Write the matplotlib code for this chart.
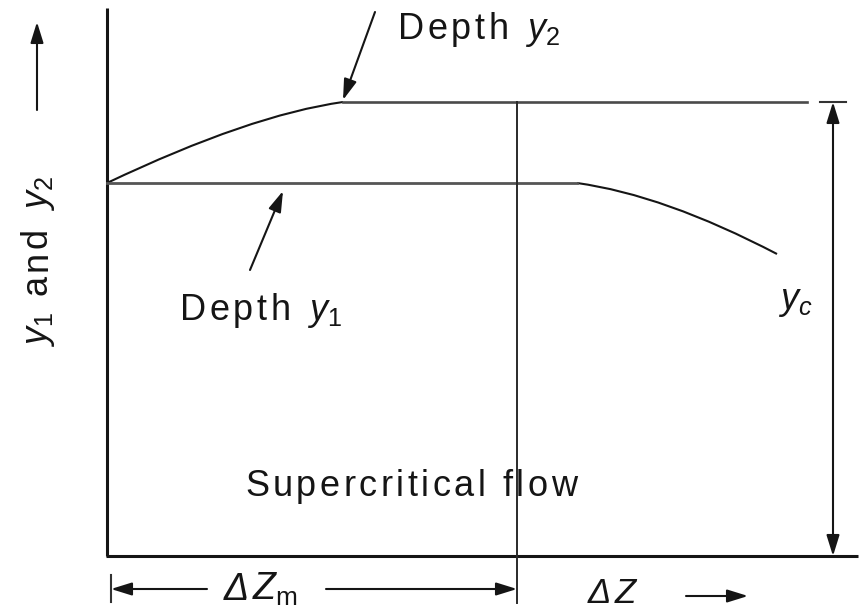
import matplotlib
matplotlib.use("Agg")
import matplotlib.pyplot as plt
from matplotlib.path import Path
from matplotlib.patches import PathPatch
from matplotlib.font_manager import FontProperties

FONT = "Liberation Sans"
INK = "#151515"
plt.rcParams.update({
    "font.family": FONT,
    "mathtext.fontset": "custom",
    "mathtext.rm": FONT,
    "mathtext.it": FONT + ":italic",
    "mathtext.bf": FONT + ":bold",
})

# schematic geometry, in picture pixels (y grows downward)
x_origin, y_base = 107, 556
axis_top, axis_right = 8, 858
y2_level, y1_level = 102, 183
y2_rise = [(107, 183), (250, 115), (343, 102)]    # quadratic bezier
y2_flat = [343, 807]
y1_flat = [107, 577]
y1_fall = [(577, 183), (664, 195), (777, 254)]    # quadratic bezier
zm_x, zm_bottom = 517, 603
yc_x, yc_tick = 833, [820, 846]
dzm_y, dzm_tick_x, dzm_tick = 589, 111, [575, 602]
dzm_left, dzm_right = 207, 326
dz_y, dz_arrow = 596, [686, 748]

fig = plt.figure(figsize=(8.64, 6.13), dpi=100)
ax = fig.add_axes([0, 0, 1, 1])
ax.set_xlim(0, 864)
ax.set_ylim(613, 0)
ax.axis("off")

# axes of the sketch
ax.plot([x_origin, x_origin], [axis_top, y_base], color=INK, lw=2.2, solid_capstyle="butt")
ax.plot([x_origin - 1, axis_right], [y_base, y_base], color=INK, lw=2.2, solid_capstyle="butt")

# depth y2: rising curve then level
ax.add_patch(PathPatch(Path(y2_rise, [Path.MOVETO, Path.CURVE3, Path.CURVE3]),
                       fill=False, color=INK, lw=1.5))
ax.plot(y2_flat, [y2_level, y2_level], color="#4a4a4a", lw=1.9)

# depth y1: level then falling curve
ax.plot(y1_flat, [y1_level, y1_level], color="#555555", lw=2.0)
ax.add_patch(PathPatch(Path(y1_fall, [Path.MOVETO, Path.CURVE3, Path.CURVE3]),
                       fill=False, color=INK, lw=1.5))

# vertical at delta Z_m
ax.plot([zm_x, zm_x], [y2_level, zm_bottom], color="#2a2a2a", lw=1.4)

ARW = dict(color=INK, lw=1.5, shrinkA=0, shrinkB=0, mutation_scale=14)


def arrow(tail, tip, style="-|>,head_length=0.9,head_width=0.28"):
    ax.annotate("", xy=tip, xytext=tail, arrowprops=dict(arrowstyle=style, **ARW))


# y_c dimension
ax.plot(yc_tick, [y2_level, y2_level], color="#333333", lw=1.5)
arrow((yc_x, y2_level), (yc_x, y_base), "<|-|>,head_length=0.9,head_width=0.28")

# delta Z_m dimension
ax.plot([dzm_tick_x, dzm_tick_x], dzm_tick, color="#333333", lw=1.5)
arrow((dzm_left, dzm_y), (dzm_tick_x, dzm_y))
arrow((dzm_right, dzm_y), (zm_x, dzm_y))
arrow((dz_arrow[0], dz_y), (dz_arrow[1], dz_y))

# pointers
arrow((375, 12), (343, 100))
arrow((250, 270), (283, 191))
# y axis arrow
arrow((37, 110), (37, 22))

R = fig.canvas.get_renderer()


def spaced(x, y, parts, size, track, vertical=False):
    pos = 0.0
    for s, it in parts:
        prop = FontProperties(family=FONT, size=size, style="italic" if it else "normal")
        if s == " ":
            w = 0.28 * size * 100 / 72
        else:
            w = R.get_text_width_height_descent(s, prop, ismath=s.startswith("$"))[0]
            kw = dict(fontproperties=prop, color=INK, ha="left", va="baseline")
            if vertical:
                ax.text(x, y - pos, s, rotation=90, rotation_mode="anchor", **kw)
            else:
                ax.text(x + pos, y, s, **kw)
        pos += w + track
    return pos


def chars(word):
    return [(c, False) for c in word]


spaced(398, 39, chars("Depth ") + [("$y_2$", False)], 26, 3.5)
spaced(180, 320, chars("Depth ") + [("$y_1$", False)], 26, 3.5)
spaced(778, 309, [("$y_c$", False)], 26, 0)
spaced(245, 496, chars("Supercritical flow"), 26, 3.5)
spaced(224, 600, [("Δ", True), (r"$Z_\mathrm{m}$", False)], 27, 3)
spaced(588, 603, [("Δ", True), ("$Z$", False)], 25, 3)
spaced(47, 347, [("$y_1$", False), (" ", False)] + chars("and ") + [("$y_2$", False)], 26, 3.5,
       vertical=True)

fig.savefig("out.png", dpi=100)
